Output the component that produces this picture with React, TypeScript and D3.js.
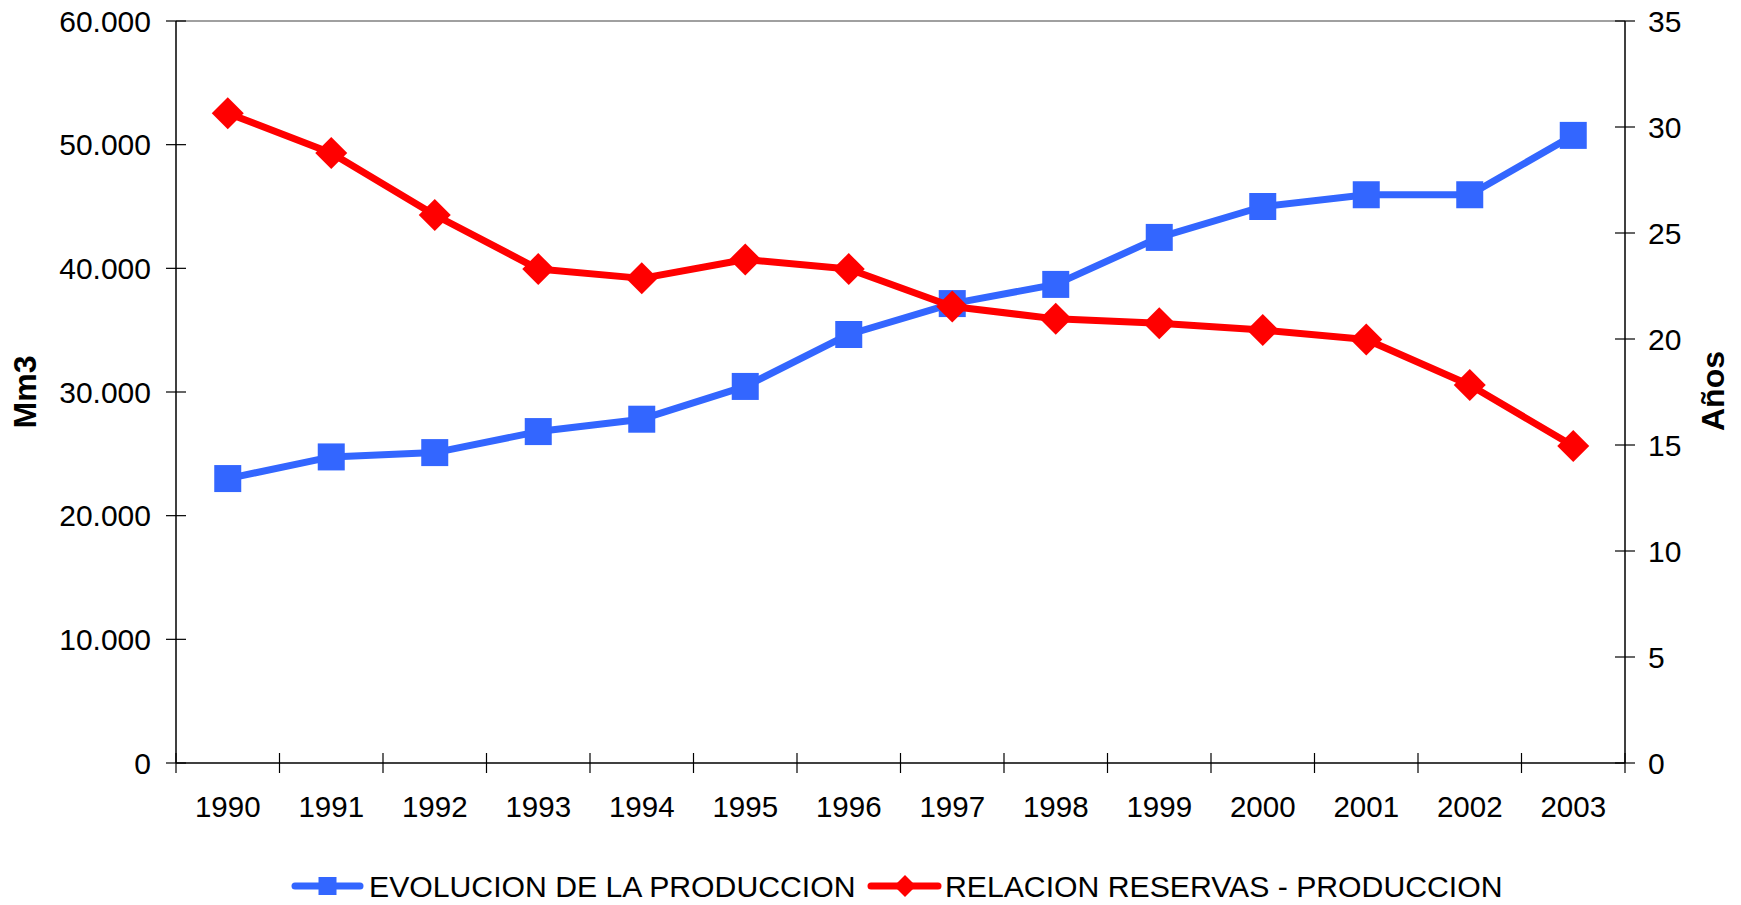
import React from "react";
import * as d3 from "d3";

const years = ["1990","1991","1992","1993","1994","1995","1996","1997","1998","1999","2000","2001","2002","2003"];
const production = [23000, 24750, 25100, 26800, 27800, 30450, 34650, 37150, 38700, 42500, 45000, 45950, 45950, 50750];
const ratio = [30.65, 28.77, 25.85, 23.3, 22.86, 23.75, 23.3, 21.53, 20.95, 20.74, 20.42, 19.98, 17.83, 14.95];
const leftTicks = [0, 10000, 20000, 30000, 40000, 50000, 60000];
const rightTicks = [0, 5, 10, 15, 20, 25, 30, 35];
const seriesNames = ["EVOLUCION DE LA PRODUCCION", "RELACION RESERVAS - PRODUCCION"];

const W = 1741, H = 905;
const L = 176, R = 1625, T = 21, B = 763;
const BLUE = "#3366FF", RED = "#FF0000";
const FONT = "'Liberation Sans', Arial, sans-serif";

const fmt = d3.formatLocale({ thousands: ".", decimal: ",", grouping: [3], currency: ["", ""] }).format(",");

export default function App() {
  const x = d3.scaleBand<string>().domain(years).range([L, R]);
  const yL = d3.scaleLinear().domain([0, 60000]).range([B, T]);
  const yR = d3.scaleLinear().domain([0, 35]).range([B, T]);
  const cx = (y: string) => (x(y) as number) + x.bandwidth() / 2;

  const lineP = d3.line<number>().x((_, i) => cx(years[i])).y((v) => yL(v));
  const lineR = d3.line<number>().x((_, i) => cx(years[i])).y((v) => yR(v));

  const sq = 27;
  const dm = 16;
  const diamond = (px: number, py: number, r: number) =>
    `M${px},${py - r}L${px + r},${py}L${px},${py + r}L${px - r},${py}Z`;

  const boundaries = years.map((y) => x(y) as number).concat([R]);

  return (
    <svg width={W} height={H} style={{ position: "absolute", left: 0, top: 0, background: "#fff" }} fontFamily={FONT}>
      <rect x={0} y={0} width={W} height={H} fill="#fff" />
      {/* top frame */}
      <line x1={L} x2={R} y1={T} y2={T} stroke="#808080" strokeWidth={1.5} />
      {/* left axis */}
      <line x1={L} x2={L} y1={T} y2={B} stroke="#000" strokeWidth={1.5} />
      {leftTicks.map((t) => (
        <g key={"l" + t}>
          <line x1={L - 10} x2={L + 10} y1={yL(t)} y2={yL(t)} stroke="#000" strokeWidth={1.2} />
          <text x={151} y={yL(t)} dy="0.35em" textAnchor="end" fontSize={30} fill="#000">{fmt(t)}</text>
        </g>
      ))}
      {/* right axis */}
      <line x1={R} x2={R} y1={T} y2={B} stroke="#000" strokeWidth={1.5} />
      {rightTicks.map((t) => (
        <g key={"r" + t}>
          <line x1={R - 10} x2={R + 10} y1={yR(t)} y2={yR(t)} stroke="#000" strokeWidth={1.2} />
          <text x={1648} y={yR(t)} dy="0.35em" textAnchor="start" fontSize={30} fill="#000">{t}</text>
        </g>
      ))}
      {/* bottom axis */}
      <line x1={L} x2={R} y1={B} y2={B} stroke="#000" strokeWidth={1.5} />
      {boundaries.map((b, i) => (
        <line key={"b" + i} x1={b} x2={b} y1={B - 10} y2={B + 10} stroke="#000" strokeWidth={1.2} />
      ))}
      {years.map((y) => (
        <text key={"x" + y} x={cx(y)} y={817} textAnchor="middle" fontSize={29.5} fill="#000">{y}</text>
      ))}
      {/* axis titles */}
      <text transform={`translate(36,392) rotate(-90)`} textAnchor="middle" fontSize={32} fontWeight="bold" fill="#000">Mm3</text>
      <text transform={`translate(1724,391) rotate(-90)`} textAnchor="middle" fontSize={32} fontWeight="bold" fill="#000">Años</text>

      {/* production series */}
      <path d={lineP(production) as string} fill="none" stroke={BLUE} strokeWidth={7} strokeLinejoin="round" />
      {production.map((v, i) => (
        <rect key={"p" + i} x={cx(years[i]) - sq / 2} y={yL(v) - sq / 2} width={sq} height={sq} fill={BLUE} />
      ))}
      {/* ratio series */}
      <path d={lineR(ratio) as string} fill="none" stroke={RED} strokeWidth={7} strokeLinejoin="round" />
      {ratio.map((v, i) => (
        <path key={"r" + i} d={diamond(cx(years[i]), yR(v), dm)} fill={RED} />
      ))}

      {/* legend */}
      <line x1={295} x2={360} y1={886} y2={886} stroke={BLUE} strokeWidth={7} strokeLinecap="round" />
      <rect x={327.5 - 9} y={886 - 9} width={18} height={18} fill={BLUE} />
      <text x={369} y={886} dy="0.35em" fontSize={30.2} fill="#000">{seriesNames[0]}</text>
      <line x1={871} x2={938} y1={886} y2={886} stroke={RED} strokeWidth={7} strokeLinecap="round" />
      <path d={diamond(905, 886, 11)} fill={RED} />
      <text x={945} y={886} dy="0.35em" fontSize={30.2} fill="#000">{seriesNames[1]}</text>
    </svg>
  );
}
